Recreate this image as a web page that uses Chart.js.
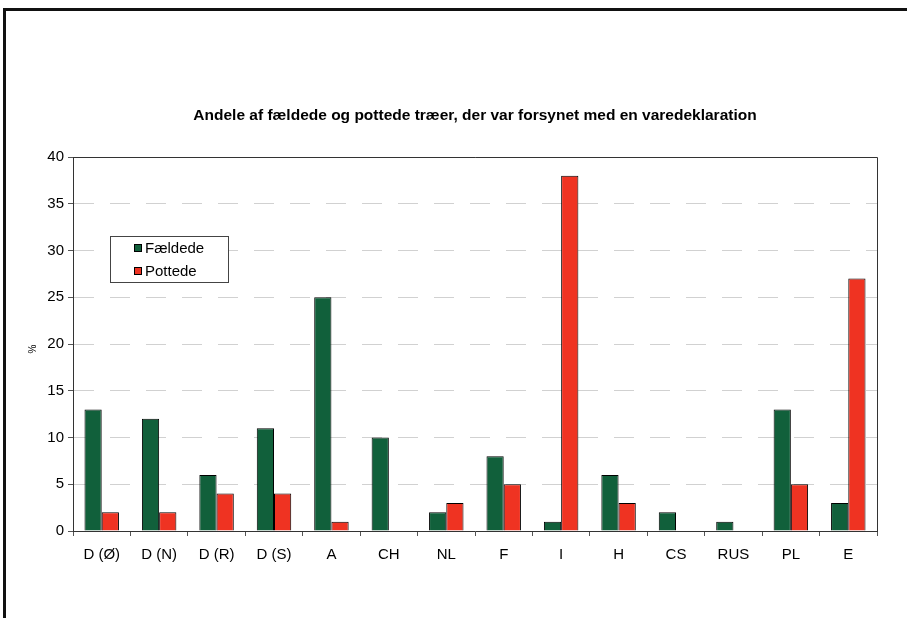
<!DOCTYPE html>
<html>
<head>
<meta charset="utf-8">
<script src="https://cdn.jsdelivr.net/npm/chart.js@4"></script>
<style>
  html, body { margin: 0; padding: 0; background: #fff; }
  #wrap { position: relative; width: 907px; height: 618px; }
</style>
</head>
<body>
<div id="wrap"><canvas id="chart" width="907" height="618"></canvas></div>
<script>
// Lande og andele (%)
const countries = ['D (Ø)', 'D (N)', 'D (R)', 'D (S)', 'A', 'CH', 'NL', 'F', 'I', 'H', 'CS', 'RUS', 'PL', 'E'];
const faeldede = [13, 12, 6, 11, 25, 10, 2, 8, 1, 6, 2, 1, 13, 3];
const pottede = [2, 2, 4, 4, 1, 0, 3, 5, 38, 3, 0, 0, 5, 27];
const yTicks = [0, 5, 10, 15, 20, 25, 30, 35, 40];

const GREEN = '#11603b';
const RED = '#ef3322';
const FONT = '"Liberation Sans", Arial, sans-serif';

// frame, title, "%" label, plot border and the boxed legend
const decorations = {
    id: 'decorations',
    afterDraw(chart) {
        const ctx = chart.ctx;
        const a = chart.chartArea;
        ctx.save();
        // outer frame
        ctx.strokeStyle = '#111';
        ctx.lineWidth = 3;
        ctx.strokeRect(4.5, 9.5, 950, 700);

        // plot border top + right
        ctx.lineWidth = 1;
        ctx.strokeStyle = '#333';
        ctx.beginPath();
        ctx.moveTo(a.left, a.top + 0.5);
        ctx.lineTo(a.right + 0.5, a.top + 0.5);
        ctx.lineTo(a.right + 0.5, a.bottom);
        ctx.stroke();

        // title
        ctx.fillStyle = '#000';
        ctx.font = 'bold 15.5px ' + FONT;
        ctx.textAlign = 'center';
        ctx.textBaseline = 'middle';
        ctx.fillText('Andele af fældede og pottede træer, der var forsynet med en varedeklaration', 475, 116);

        // y-axis label
        ctx.save();
        ctx.translate(33, 349);
        ctx.rotate(-Math.PI / 2);
        ctx.font = '10px ' + FONT;
        ctx.fillText('%', 0, 0);
        ctx.restore();

        // legend
        const lx = 110, ly = 236, lw = 118, lh = 46;
        ctx.fillStyle = '#fff';
        ctx.fillRect(lx, ly, lw, lh);
        ctx.strokeStyle = '#444';
        ctx.strokeRect(lx + 0.5, ly + 0.5, lw, lh);
        const items = [[GREEN, 'Fældede', 248], [RED, 'Pottede', 271]];
        ctx.font = '15px ' + FONT;
        ctx.textAlign = 'left';
        items.forEach(([c, label, y]) => {
            ctx.fillStyle = c;
            ctx.fillRect(134, y - 4, 8, 8);
            ctx.strokeStyle = '#000';
            ctx.strokeRect(134.5, y - 3.5, 7, 7);
            ctx.fillStyle = '#000';
            ctx.fillText(label, 145, y + 1);
        });
        ctx.restore();
    }
};

new Chart(document.getElementById('chart'), {
    type: 'bar',
    data: {
        labels: countries,
        datasets: [
            { label: 'Fældede', data: faeldede, backgroundColor: GREEN, borderColor: '#000', borderWidth: 1 },
            { label: 'Pottede', data: pottede, backgroundColor: RED, borderColor: '#000', borderWidth: 1 }
        ]
    },
    options: {
        responsive: false,
        animation: false,
        layout: { padding: { left: 33, right: 30, top: 157, bottom: 47 } },
        datasets: { bar: { categoryPercentage: 0.6, barPercentage: 1.0 } },
        scales: {
            x: {
                afterFit(s) { s.height = 40; },
                grid: { offset: true, drawOnChartArea: false, drawTicks: true, tickLength: 5, color: '#555' },
                border: { color: '#333', width: 1 },
                ticks: { color: '#000', font: { family: FONT, size: 15 }, padding: 10, maxRotation: 0, autoSkip: false }
            },
            y: {
                min: 0,
                max: 40,
                afterFit(s) { s.width = 40; },
                afterBuildTicks(s) { s.ticks = yTicks.map(v => ({ value: v })); },
                grid: {
                    color: 'rgba(140,140,140,0.4)',
                    tickLength: 5,
                    tickColor: '#555',
                    tickBorderDash: []
                },
                border: { color: '#333', width: 1, dash: [20, 16] },
                ticks: { color: '#000', font: { family: FONT, size: 15 }, padding: 4 }
            }
        },
        plugins: {
            legend: { display: false },
            title: { display: false },
            tooltip: { enabled: false }
        }
    },
    plugins: [decorations]
});
</script>
</body>
</html>
